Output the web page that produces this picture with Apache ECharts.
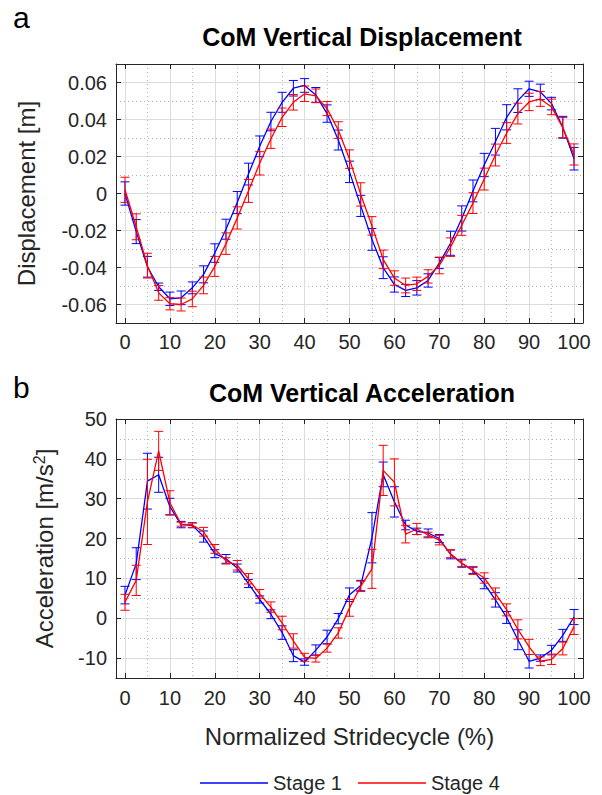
<!DOCTYPE html>
<html><head><meta charset="utf-8">
<script src="https://cdn.jsdelivr.net/npm/echarts@6/dist/echarts.min.js"></script>
<style>html,body{margin:0;padding:0;background:#fff}#c{width:602px;height:795px}</style>
</head><body><div id="c"></div>
<script>
// ---------- data ----------
const stride = [0,2.5,5,7.5,10,12.5,15,17.5,20,22.5,25,27.5,30,32.5,35,37.5,40,42.5,45,47.5,50,52.5,55,57.5,60,62.5,65,67.5,70,72.5,75,77.5,80,82.5,85,87.5,90,92.5,95,97.5,100];

const dispStage1 = [0.000,-0.0206,-0.0396,-0.0504,-0.0569,-0.0564,-0.0510,-0.0437,-0.0322,-0.0193,-0.0049,0.0105,0.0255,0.0389,0.0493,0.0569,0.0584,0.0533,0.0432,0.0289,0.0117,-0.0067,-0.0248,-0.0401,-0.0492,-0.0524,-0.0510,-0.0470,-0.0376,-0.0269,-0.0135,0.0014,0.0154,0.0280,0.0412,0.0502,0.0566,0.0549,0.0486,0.0358,0.0188];
const dispStage1Err = [0.0063,0.0065,0.0056,0.0020,0.0036,0.0037,0.0032,0.0046,0.0050,0.0054,0.0060,0.0059,0.0056,0.0050,0.0054,0.0042,0.0037,0.0040,0.0047,0.0054,0.0058,0.0057,0.0059,0.0059,0.0041,0.0033,0.0039,0.0036,0.0030,0.0065,0.0068,0.0059,0.0063,0.0072,0.0068,0.0064,0.0041,0.0042,0.0034,0.0059,0.0061];
const dispStage4 = [0.002,-0.0180,-0.0390,-0.0537,-0.0596,-0.0600,-0.0570,-0.0497,-0.0394,-0.0271,-0.0132,0.0014,0.0163,0.0296,0.0412,0.0493,0.0539,0.0528,0.0459,0.0343,0.0186,-0.0005,-0.0175,-0.0356,-0.0457,-0.0497,-0.0488,-0.0448,-0.0389,-0.0290,-0.0172,-0.0052,0.0078,0.0208,0.0327,0.0432,0.0495,0.0511,0.0468,0.0356,0.0211];
const dispStage4Err = [0.0068,0.0070,0.0067,0.0040,0.0033,0.0035,0.0042,0.0045,0.0054,0.0058,0.0060,0.0062,0.0063,0.0052,0.0050,0.0042,0.0042,0.0037,0.0038,0.0045,0.0050,0.0063,0.0050,0.0050,0.0039,0.0040,0.0036,0.0036,0.0045,0.0050,0.0054,0.0056,0.0059,0.0059,0.0056,0.0056,0.0047,0.0040,0.0042,0.0054,0.0057];

const accStage1 = [5.8,13.7,34.4,36.0,28.0,23.5,23.3,20.5,16.2,14.9,12.6,8.7,4.7,1.0,-3.6,-9.4,-11.0,-8.0,-4.7,-0.1,5.9,8.2,20.2,36.1,29.2,23.4,21.8,21.4,20.0,16.0,13.8,12.0,8.7,4.6,0.2,-5.4,-10.8,-10.0,-8.0,-4.3,0.3];
const accStage1Err = [2.2,4.0,7.0,4.4,2.1,0.8,0.6,1.4,1.0,1.1,1.0,1.0,0.9,1.1,1.7,1.5,0.8,1.3,1.7,1.3,1.7,1.3,6.3,3.1,3.8,1.2,0.8,1.0,1.0,1.1,1.0,0.8,1.3,1.8,1.5,2.5,1.7,0.8,1.2,1.5,1.9];
const accStage4 = [4.0,9.5,29.2,42.0,29.0,23.6,23.4,21.7,17.4,14.4,13.3,9.9,6.1,2.8,-1.2,-5.7,-9.8,-10.1,-7.5,-3.7,2.6,8.0,12.4,37.1,34.1,21.1,22.4,20.9,19.6,16.2,13.8,12.0,10.1,6.2,2.1,-2.8,-7.2,-10.8,-10.3,-7.6,-2.1];
const accStage4Err = [2.0,3.8,10.7,4.9,3.0,0.5,0.6,1.1,1.1,0.8,1.2,1.3,1.1,1.3,1.7,1.8,1.0,0.9,1.0,1.3,2.1,1.3,4.9,6.3,5.9,2.2,1.4,0.7,1.2,1.0,0.8,1.0,1.3,1.4,1.5,2.4,1.9,1.1,1.3,1.6,2.0];

const xTicks = [0,10,20,30,40,50,60,70,80,90,100];
const xMinor = [5,15,25,35,45,55,65,75,85,95];
const dispTicks = [-0.06,-0.04,-0.02,0,0.02,0.04,0.06];
const dispMinor = [-0.05,-0.03,-0.01,0.01,0.03,0.05];
const accTicks = [-10,0,10,20,30,40,50];
const accMinor = [-5,5,15,25,35,45];

const seriesNames = ['Stage 1','Stage 4'];
const panelTitles = ['CoM Vertical Displacement','CoM Vertical Acceleration'];
const panelLetters = ['a','b'];

// ---------- chart ----------
const FONT = '"Liberation Sans", Arial, sans-serif';
const AX = '#262626';
const BLUE = '#0000ff', RED = '#ff0000';
const chart = echarts.init(document.getElementById('c'), null, {renderer:'svg'});

const grids = [
  {left:116, top:64, width:467, height:259},
  {left:116, top:419, width:467, height:259}
];

function makeX(gi, isBottomPlot){
  const common = {gridIndex:gi, type:'value', min:-2, max:102};
  return [
    Object.assign({}, common, {
      position:'bottom',
      axisLine:{show:true, onZero:false, lineStyle:{color:AX, width:1}},
      axisTick:{show:true, inside:true, length:5, customValues:xTicks, lineStyle:{color:AX}},
      axisLabel:{customValues:xTicks, fontSize:20, color:AX, fontFamily:FONT, margin:isBottomPlot?10:9},
      splitLine:{show:true, lineStyle:{color:'#dcdcdc', width:1}},
      name: isBottomPlot ? 'Normalized Stridecycle (%)' : '',
      nameLocation:'middle', nameGap:46,
      nameTextStyle:{fontSize:24, color:AX, fontFamily:FONT}
    }),
    Object.assign({}, common, {
      position:'top',
      axisLine:{show:true, onZero:false, lineStyle:{color:AX, width:1}},
      axisTick:{show:true, inside:true, length:5, customValues:xTicks, lineStyle:{color:AX}},
      axisLabel:{show:false, customValues:xTicks},
      splitLine:{show:false}
    }),
    Object.assign({}, common, {
      position:'bottom',
      axisLine:{show:false, onZero:false},
      axisTick:{show:false, customValues:xMinor},
      axisLabel:{show:false, customValues:xMinor},
      splitLine:{show:true, lineStyle:{color:'#b4b4b4', width:1, type:[1,3]}}
    })
  ];
}
function makeY(gi, min, max, ticks, minor, name, gap, fmt){
  const common = {gridIndex:gi, type:'value', min:min, max:max};
  return [
    Object.assign({}, common, {
      position:'left',
      axisLine:{show:true, onZero:false, lineStyle:{color:AX, width:1}},
      axisTick:{show:true, inside:true, length:5, customValues:ticks, lineStyle:{color:AX}},
      axisLabel:{customValues:ticks, fontSize:20, color:AX, fontFamily:FONT, margin:9, formatter:fmt},
      splitLine:{show:true, lineStyle:{color:'#dcdcdc', width:1}},
      name:name, nameLocation:'middle', nameGap:gap, nameRotate:90,
      nameTextStyle:{fontSize:24, color:AX, fontFamily:FONT,
        rich:{sup:{fontSize:16, color:AX, fontFamily:FONT, verticalAlign:'top', padding:[0,0,10,0]}}}
    }),
    Object.assign({}, common, {
      position:'right',
      axisLine:{show:true, onZero:false, lineStyle:{color:AX, width:1}},
      axisTick:{show:true, inside:true, length:5, customValues:ticks, lineStyle:{color:AX}},
      axisLabel:{show:false, customValues:ticks},
      splitLine:{show:false}
    }),
    Object.assign({}, common, {
      position:'left',
      axisLine:{show:false, onZero:false},
      axisTick:{show:false, customValues:minor},
      axisLabel:{show:false, customValues:minor},
      splitLine:{show:true, lineStyle:{color:'#b4b4b4', width:1, type:[1,3]}}
    })
  ];
}

const xAxes = makeX(0,false).concat(makeX(1,true));
const yAxes = makeY(0,-0.07,0.07,dispTicks,dispMinor,'Displacement [m]',78,
                    v => String(+Number(v).toFixed(2)))
       .concat(makeY(1,-15,50,accTicks,accMinor,'Acceleration [m/s{sup|2}]',59,
                    v => String(Math.round(v))));

function errRender(color){
  return function(params, api){
    const x = api.value(0), y = api.value(1), e = api.value(2);
    const t = api.coord([x, y + e]);
    const b = api.coord([x, y - e]);
    const w = 4.5;
    const st = {stroke:color, lineWidth:1, fill:null};
    return {type:'group', children:[
      {type:'line', shape:{x1:t[0], y1:t[1], x2:b[0], y2:b[1]}, style:st},
      {type:'line', shape:{x1:t[0]-w, y1:t[1], x2:t[0]+w, y2:t[1]}, style:st},
      {type:'line', shape:{x1:b[0]-w, y1:b[1], x2:b[0]+w, y2:b[1]}, style:st}
    ]};
  };
}
function pts(vals){ return stride.map((x,i)=>[x, vals[i]]); }
function errPts(vals, errs){ return stride.map((x,i)=>[x, vals[i], errs[i]]); }

function panelSeries(axisIdx, v1, e1, v4, e4){
  const mk = (name, color, vals, errs, z) => [
    {name:name, type:'line', xAxisIndex:axisIdx, yAxisIndex:axisIdx, data:pts(vals),
     symbol:'none', lineStyle:{color:color, width:1.3}, itemStyle:{color:color}, z:z, silent:true},
    {name:name + ' SD', type:'custom', xAxisIndex:axisIdx, yAxisIndex:axisIdx,
     data:errPts(vals, errs), renderItem:errRender(color), encode:{x:0, y:1}, z:z, silent:true}
  ];
  return mk(seriesNames[0], BLUE, v1, e1, 3).concat(mk(seriesNames[1], RED, v4, e4, 4));
}

const series = panelSeries(0, dispStage1, dispStage1Err, dispStage4, dispStage4Err)
  .concat(panelSeries(3, accStage1, accStage1Err, accStage4, accStage4Err));

const option = {
  animation:false,
  backgroundColor:'#fff',
  textStyle:{fontFamily:FONT},
  grid:grids,
  xAxis:xAxes,
  yAxis:yAxes,
  legend:{
    data:seriesNames.map(n => ({name:n, icon:'rect'})),
    left:200, top:773, padding:0, itemWidth:68, itemHeight:1.5, itemGap:16,
    textStyle:{fontSize:20, lineHeight:20, color:AX, fontFamily:FONT}, selectedMode:false
  },
  graphic:[
    {type:'text', left:13, top:2, style:{text:panelLetters[0], font:'30px ' + FONT, fill:'#000'}},
    {type:'text', left:13, top:372, style:{text:panelLetters[1], font:'30px ' + FONT, fill:'#000'}},
    {type:'text', x:362, y:37, style:{text:panelTitles[0], font:'bold 25px ' + FONT, fill:'#000', textAlign:'center', textVerticalAlign:'middle'}},
    {type:'text', x:362, y:393, style:{text:panelTitles[1], font:'bold 25px ' + FONT, fill:'#000', textAlign:'center', textVerticalAlign:'middle'}}
  ],
  series:series
};
chart.setOption(option);
</script></body></html>
